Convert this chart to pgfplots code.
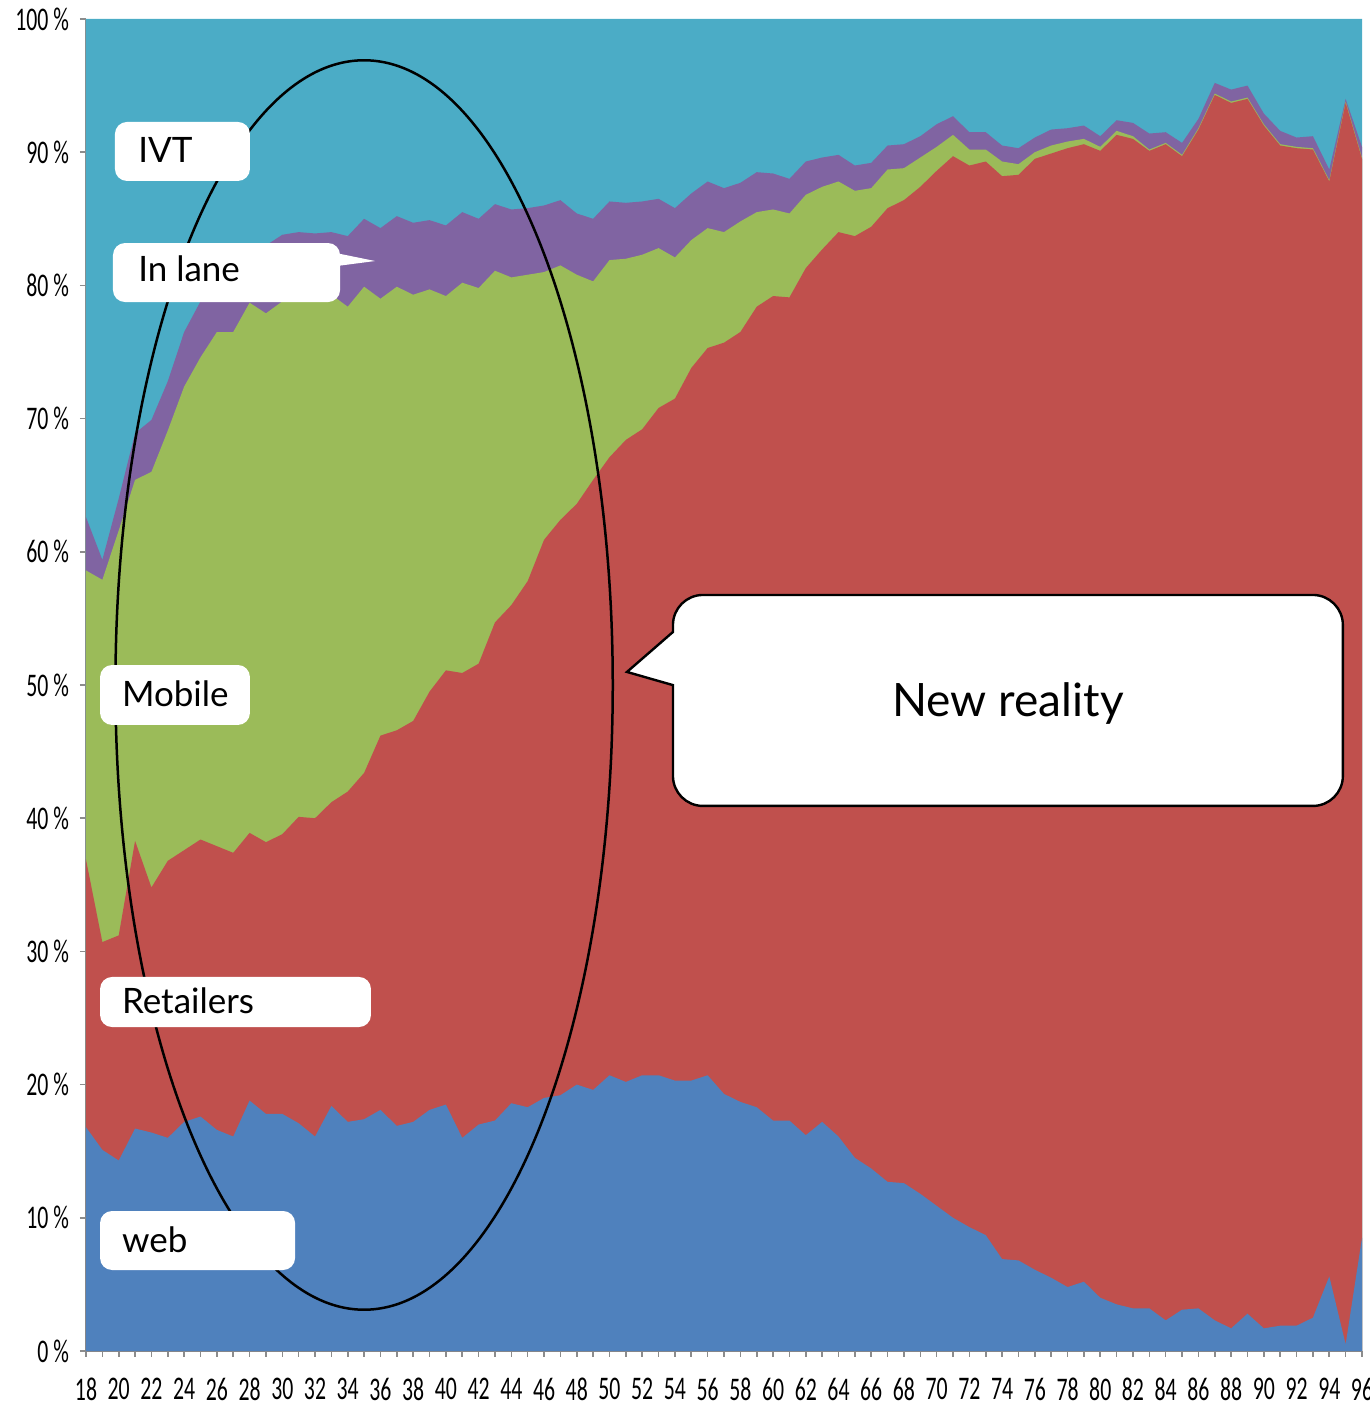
\documentclass[border=0pt]{standalone}
\usepackage{fontspec}
\setmainfont{Lato}
\newfontfamily\tickfont[FakeStretch=0.66]{Carlito}
\usepackage{pgfplots}
\usepackage{pgfplotstable}
\pgfplotsset{compat=1.18}

\definecolor{cweb}{HTML}{4F81BD}
\definecolor{cret}{HTML}{C0504D}
\definecolor{cmob}{HTML}{9BBB59}
\definecolor{clane}{HTML}{8064A2}
\definecolor{civt}{HTML}{4BACC6}
\definecolor{axgray}{HTML}{8C8C8C}

% cumulative tops of each layer (percent)
\pgfplotstableread{
x  web  ret  mob  lane ivt
18 16.8 36.9 58.6 62.6 100
19 15.1 30.7 57.9 59.4 100
20 14.3 31.2 61.6 64.0 100
21 16.7 38.3 65.4 68.9 100
22 16.4 34.8 66.0 69.9 100
23 16.0 36.8 69.1 72.8 100
24 17.2 37.6 72.4 76.5 100
25 17.6 38.4 74.6 78.8 100
26 16.6 37.9 76.5 80.5 100
27 16.1 37.4 76.5 81.5 100
28 18.8 38.9 78.7 82.5 100
29 17.8 38.2 77.9 83.0 100
30 17.8 38.8 78.8 83.8 100
31 17.1 40.1 79.5 84.0 100
32 16.1 40.0 79.5 83.9 100
33 18.4 41.2 79.3 84.0 100
34 17.2 42.0 78.4 83.7 100
35 17.4 43.4 79.9 85.0 100
36 18.1 46.2 79.0 84.3 100
37 16.9 46.6 79.9 85.2 100
38 17.2 47.3 79.3 84.7 100
39 18.1 49.5 79.7 84.9 100
40 18.5 51.1 79.2 84.5 100
41 16.0 50.9 80.2 85.5 100
42 17.0 51.6 79.8 85.0 100
43 17.3 54.7 81.1 86.1 100
44 18.6 56.0 80.6 85.7 100
45 18.3 57.8 80.8 85.8 100
46 19.0 60.9 81.0 86.0 100
47 19.2 62.4 81.5 86.4 100
48 20.0 63.6 80.8 85.4 100
49 19.6 65.4 80.3 85.0 100
50 20.7 67.1 81.9 86.3 100
51 20.2 68.4 82.0 86.2 100
52 20.7 69.2 82.3 86.3 100
53 20.7 70.8 82.8 86.5 100
54 20.3 71.5 82.1 85.8 100
55 20.3 73.8 83.4 86.9 100
56 20.7 75.3 84.3 87.8 100
57 19.3 75.7 84.0 87.3 100
58 18.7 76.5 84.8 87.7 100
59 18.3 78.4 85.5 88.5 100
60 17.3 79.2 85.7 88.4 100
61 17.3 79.1 85.4 88.0 100
62 16.2 81.3 86.8 89.3 100
63 17.2 82.7 87.4 89.6 100
64 16.1 84.0 87.8 89.8 100
65 14.5 83.7 87.1 89.0 100
66 13.7 84.4 87.3 89.2 100
67 12.7 85.8 88.7 90.5 100
68 12.6 86.4 88.8 90.6 100
69 11.8 87.4 89.6 91.2 100
70 10.9 88.6 90.4 92.1 100
71 10.0 89.7 91.3 92.7 100
72  9.3 89.0 90.2 91.5 100
73  8.7 89.3 90.2 91.5 100
74  6.9 88.2 89.3 90.5 100
75  6.8 88.3 89.1 90.3 100
76  6.1 89.5 90.0 91.1 100
77  5.5 89.9 90.5 91.7 100
78  4.8 90.3 90.8 91.8 100
79  5.2 90.6 91.0 92.0 100
80  4.0 90.1 90.4 91.2 100
81  3.5 91.3 91.6 92.4 100
82  3.2 91.0 91.2 92.2 100
83  3.2 90.1 90.2 91.4 100
84  2.3 90.6 90.7 91.5 100
85  3.1 89.7 89.8 90.7 100
86  3.2 91.7 91.8 92.5 100
87  2.3 94.3 94.4 95.2 100
88  1.7 93.7 93.8 94.7 100
89  2.8 94.0 94.1 95.0 100
90  1.7 92.0 92.1 92.9 100
91  1.9 90.5 90.6 91.6 100
92  1.9 90.3 90.4 91.1 100
93  2.5 90.2 90.3 91.2 100
94  5.6 87.8 87.9 88.7 100
95  0.5 93.7 93.8 94.0 100
96  8.5 89.5 89.6 90.4 100
}\shares

\newcommand{\lbl}{\fontsize{17.5pt}{20pt}\selectfont}

\begin{document}
\begin{tikzpicture}
\begin{axis}[
    name=ax,
    scale only axis,
    width=638pt, height=666pt,
    xmin=18, xmax=96, ymin=0, ymax=100,
    axis x line*=bottom, axis y line*=left,
    axis line style={draw=axgray, line width=0.8pt},
    xtick={18,20,...,96},
    minor x tick num=1,
    ytick={0,10,...,100},
    tick align=outside,
    major tick length=3pt, minor tick length=3pt,
    every tick/.style={draw=axgray, line width=0.8pt},
    minor tick style={draw=axgray, line width=0.8pt},
    ticklabel style={font={\tickfont\fontsize{16.5pt}{16.5pt}\selectfont}},
    /pgf/number format/assume math mode=true,
    yticklabel={\pgfmathprintnumber{\tick}\hspace{0.15em}\%},
    xticklabel style={yshift=-7pt},
    yticklabel style={xshift=-2pt},
    clip=false,
]
\addplot[fill=civt, draw=none] table[x=x, y=ivt]{\shares} \closedcycle;
\addplot[fill=clane, draw=none] table[x=x, y=lane]{\shares} \closedcycle;
\addplot[fill=cmob, draw=none] table[x=x, y=mob]{\shares} \closedcycle;
\addplot[fill=cret, draw=none] table[x=x, y=ret]{\shares} \closedcycle;
\addplot[fill=cweb, draw=none] table[x=x, y=web]{\shares} \closedcycle;

% ellipse around the young ages
\draw[black, line width=1.25pt] (axis cs:35,50) ellipse [x radius=15.2, y radius=46.9];

% series labels
\fill[white, rounded corners=6pt] (axis cs:19.77,92.27) rectangle (axis cs:28.02,87.84);
\node[anchor=base west, inner sep=0pt, font=\lbl] at (axis cs:21.17,89.26) {IVT};

\fill[white] (axis cs:33,82.5) -- (axis cs:35.67,81.83) -- (axis cs:33,81.4) -- cycle;
\fill[white, rounded corners=6pt] (axis cs:19.65,83.18) rectangle (axis cs:33.53,78.75);
\node[anchor=base west, inner sep=0pt, font=\lbl] at (axis cs:21.17,80.26) {In lane};

\fill[white, rounded corners=6pt] (axis cs:18.86,51.5) rectangle (axis cs:28.02,47.0);
\node[anchor=base west, inner sep=0pt, font=\lbl] at (axis cs:20.18,48.37) {Mobile};

\fill[white, rounded corners=6pt] (axis cs:18.86,28.08) rectangle (axis cs:35.42,24.32);
\node[anchor=base west, inner sep=0pt, font=\lbl] at (axis cs:20.18,25.35) {Retailers};

\fill[white, rounded corners=6pt] (axis cs:18.86,10.51) rectangle (axis cs:30.78,6.08);
\node[anchor=base west, inner sep=0pt, font=\lbl] at (axis cs:20.18,7.43) {web};

% callout
\draw[fill=white, line width=1.2pt]
    (axis cs:53.88,53.98) [rounded corners=15pt] -- (axis cs:53.88,56.76)
    -- (axis cs:94.83,56.76) -- (axis cs:94.83,40.92) -- (axis cs:53.88,40.92)
    [sharp corners] -- (axis cs:53.88,49.99) -- (axis cs:51.07,50.98) -- cycle;
\node[anchor=base, inner sep=0pt, font={\fontsize{23pt}{27pt}\selectfont}]
    at (axis cs:74.36,47.67) {New reality};
\end{axis}
\pgfresetboundingbox
\path[use as bounding box] ([xshift=-43pt, yshift=-26.5pt]ax.south west)
    rectangle ([xshift=4pt, yshift=9.5pt]ax.north east);
\end{tikzpicture}
\end{document}
